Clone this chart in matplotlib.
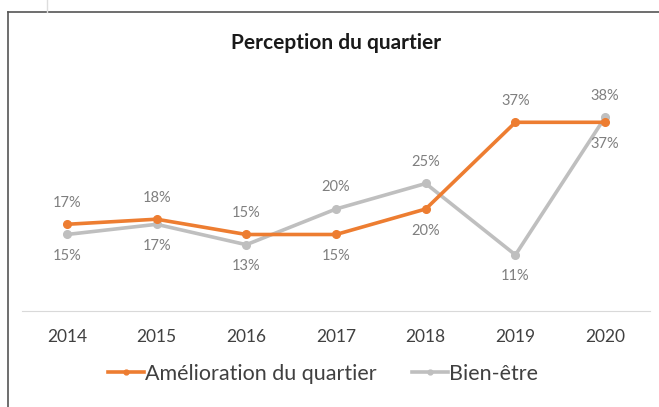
import matplotlib.pyplot as plt
from matplotlib.lines import Line2D

# survey results per year, in percent
years = ["2014", "2015", "2016", "2017", "2018", "2019", "2020"]
amelioration = [17, 18, 15, 15, 20, 37, 37]
bien_etre = [15, 17, 13, 20, 25, 11, 38]

# where each data label goes: +1 above the point, -1 below
amelioration_side = [1, 1, 1, -1, -1, 1, -1]
bien_etre_side = [-1, -1, -1, 1, 1, -1, 1]

ORANGE = "#ED7D31"
GREY = "#BFBFBF"
LABEL = "#7F7F7F"
TEXT = "#404040"

plt.rcParams["font.family"] = ["Lato", "DejaVu Sans"]

fig = plt.figure(figsize=(6.59, 4.07), dpi=100)
fig.patch.set_facecolor("white")

# chart frame: left and top edges only show
fig.add_artist(Line2D([8 / 659, 8 / 659], [0, 1 - 12 / 407], color="#555555", lw=1.2))
fig.add_artist(Line2D([8 / 659, 1], [1 - 12 / 407, 1 - 12 / 407], color="#555555", lw=1.2))
fig.add_artist(Line2D([47 / 659, 47 / 659], [1 - 12 / 407, 1], color="#DDDDDD", lw=1))

ax = fig.add_axes([22 / 659, 96 / 407, 628 / 659, 204 / 407])
x = range(len(years))

ax.plot(x, amelioration, color=ORANGE, lw=2.6, marker="o", ms=5.5, zorder=3)
ax.plot(x, bien_etre, color=GREY, lw=2.6, marker="o", ms=5.5, zorder=2)

for i, (v, s) in enumerate(zip(amelioration, amelioration_side)):
    ax.annotate(f"{v}%", (i, v), xytext=(0, 15.5 * s), textcoords="offset points",
                ha="center", va="center", fontsize=10.5, color=LABEL)
for i, (v, s) in enumerate(zip(bien_etre, bien_etre_side)):
    ax.annotate(f"{v}%", (i, v), xytext=(0, 15.5 * s), textcoords="offset points",
                ha="center", va="center", fontsize=10.5, color=LABEL)

ax.set_xlim(-0.5, len(years) - 0.5)
ax.set_ylim(0, 40)
ax.set_xticks(list(x))
ax.set_xticklabels(years, fontsize=12.5, color=TEXT)
ax.set_yticks([])
ax.tick_params(axis="x", length=0, pad=13)
for side in ["top", "right", "left"]:
    ax.spines[side].set_visible(False)
ax.spines["bottom"].set_color("#D9D9D9")
ax.patch.set_alpha(0)

fig.text(336 / 659, 1 - 43 / 407, "Perception du quartier", ha="center", va="center",
         fontsize=15, fontweight="bold", color="#1a1a1a")

# legend keys with smaller markers than the plotted points
handles = [
    Line2D([], [], color=ORANGE, lw=2.6, marker="o", ms=3.5, label="Amélioration du quartier"),
    Line2D([], [], color=GREY, lw=2.6, marker="o", ms=3.5, label="Bien-être"),
]
fig.legend(handles=handles, loc="center", bbox_to_anchor=(323 / 659, 1 - 374 / 407),
           ncol=2, frameon=False, fontsize=15.5, handlelength=1.7, handletextpad=0.05,
           columnspacing=1.6, labelcolor=TEXT)

fig.savefig("out.png", dpi=100)
